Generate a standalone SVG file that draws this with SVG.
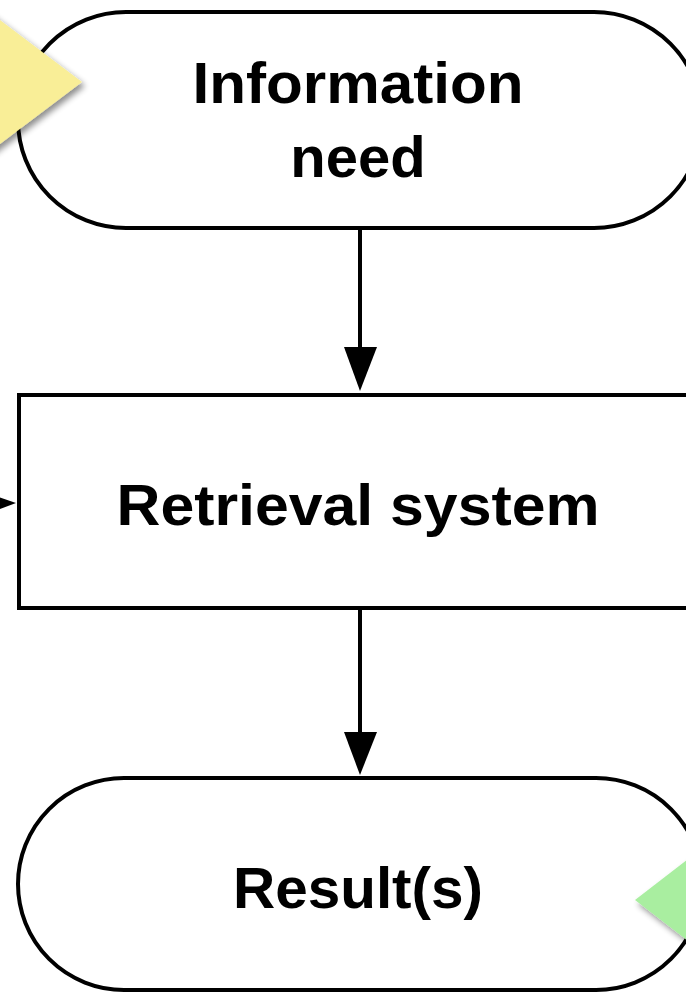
<svg xmlns="http://www.w3.org/2000/svg" width="686" height="992" viewBox="0 0 686 992">
<defs>
<style>
.shape{fill:#ffffff;stroke:#000000;stroke-width:4}
.conn{stroke:#000000;stroke-width:4;fill:none}
.lbl{font-family:"Liberation Sans",Arial,sans-serif;font-weight:bold;font-size:58px;fill:#000000;text-anchor:middle}
</style>
<filter id="sh" x="-20%" y="-20%" width="150%" height="150%">
<feGaussianBlur in="SourceAlpha" stdDeviation="3"/>
<feOffset dx="3" dy="4" result="b"/>
<feComponentTransfer><feFuncA type="linear" slope="0.45"/></feComponentTransfer>
<feMerge><feMergeNode/><feMergeNode in="SourceGraphic"/></feMerge>
</filter>
</defs>
<rect width="686" height="992" fill="#ffffff"/>
<g id="connectors">
<line class="conn" x1="360" y1="228" x2="360" y2="350"/>
<polygon points="344,347 377,347 360,391" fill="#000"/>
<line class="conn" x1="360" y1="608" x2="360" y2="735"/>
<polygon points="344,732 377,732 360,775" fill="#000"/>
<polygon points="-30,487 -30,520 16,503" fill="#000"/>
</g>
<g id="information-need">
<rect class="shape" x="18" y="12" width="684" height="216" rx="108" ry="108"/>
<text class="lbl" x="358" y="103" textLength="331" lengthAdjust="spacingAndGlyphs">Information</text>
<text class="lbl" x="358" y="177">need</text>
</g>
<g id="retrieval-system">
<rect class="shape" x="19" y="395" width="684" height="213"/>
<text class="lbl" x="358" y="525" textLength="483" lengthAdjust="spacingAndGlyphs">Retrieval system</text>
</g>
<g id="results">
<rect class="shape" x="18" y="778" width="684" height="212" rx="106" ry="106"/>
<text class="lbl" x="358" y="908" textLength="250" lengthAdjust="spacingAndGlyphs">Result(s)</text>
</g>
<g id="yellow-marker">
<polygon points="-40,-10 82,82 -40,174" fill="#F9EE97" filter="url(#sh)"/>
</g>
<g id="green-marker">
<polygon points="635,900 740,819 740,981" fill="#A9EEA0" filter="url(#sh)"/>
</g>
</svg>
